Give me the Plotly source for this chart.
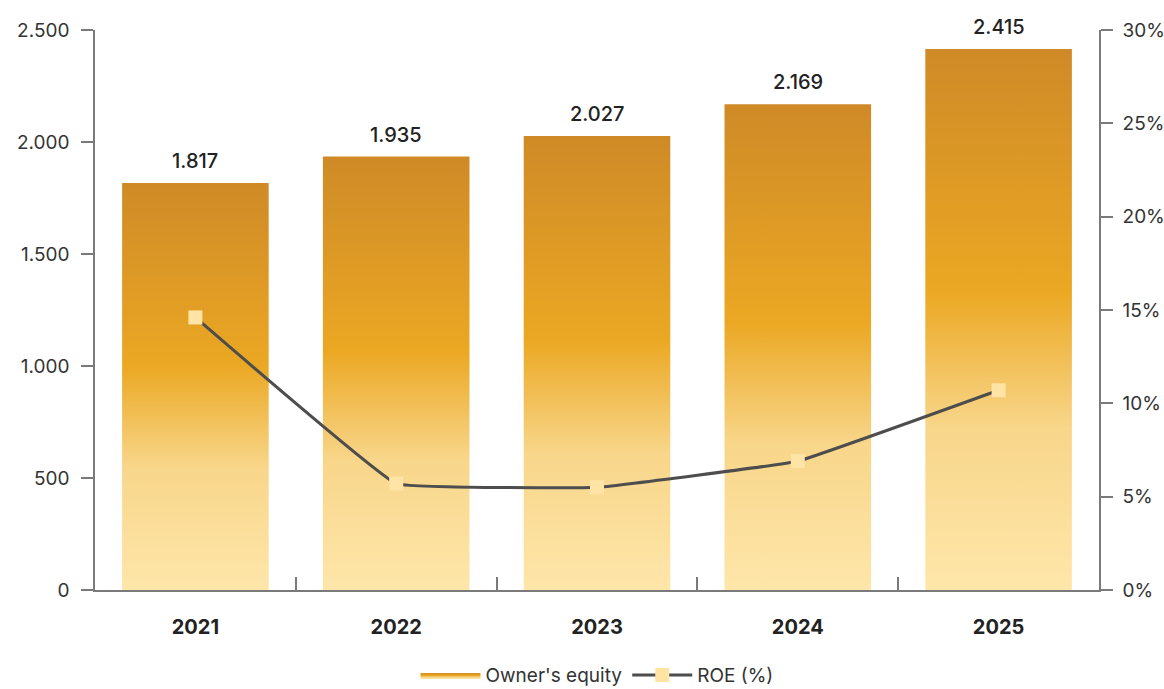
import plotly.graph_objects as go

# Data
years = ["2021", "2022", "2023", "2024", "2025"]
equity = [1817, 1935, 2027, 2169, 2415]
roe = [14.6, 5.7, 5.5, 6.9, 10.7]
equity_labels = ["1.817", "1.935", "2.027", "2.169", "2.415"]
roe_ticks = [0, 5, 10, 15, 20, 25, 30]
roe_tick_labels = ["0%", "5%", "10%", "15%", "20%", "25%", "30%"]
equity_ticks = [0, 500, 1000, 1500, 2000, 2500]

BAR_HALF = 0.365
gold_scale = [
    [0.0, "#FEE6AA"],
    [0.30, "#F8D68A"],
    [0.55, "#EBA823"],
    [1.0, "#CF8A27"],
]

fig = go.Figure()

# Gradient-filled bars, one filled polygon per year
for i, (yr, v) in enumerate(zip(years, equity)):
    fig.add_trace(go.Scatter(
        x=[i - BAR_HALF, i - BAR_HALF, i + BAR_HALF, i + BAR_HALF, i - BAR_HALF],
        y=[0, v, v, 0, 0],
        mode="lines",
        line=dict(width=0),
        fill="toself",
        fillgradient=dict(type="vertical", colorscale=gold_scale),
        name="Owner's equity",
        legendgroup="equity",
        showlegend=(i == 0),
        hoverinfo="skip",
    ))

# ROE line on secondary axis
fig.add_trace(go.Scatter(
    x=list(range(len(years))),
    y=roe,
    yaxis="y2",
    mode="lines+markers",
    name="ROE (%)",
    line=dict(color="#4D4D4D", width=3, shape="spline", smoothing=0.2),
    marker=dict(symbol="square", size=14, color="#FFE4A6", line=dict(width=0)),
))

# Value labels above bars
for i, (v, lbl) in enumerate(zip(equity, equity_labels)):
    fig.add_annotation(
        x=i, y=v, xref="x", yref="y",
        text=lbl, showarrow=False,
        yanchor="bottom", yshift=8,
        font=dict(family="Inter", size=20, color="#222222", weight=500),
    )

axis_line = "#7A7A7A"
fig.update_layout(
    width=1164,
    height=689,
    margin=dict(l=95, r=65, t=30, b=99, autoexpand=False),
    plot_bgcolor="white",
    paper_bgcolor="white",
    separators=",.",
    font=dict(family="Inter", color="#333333"),
    xaxis=dict(
        range=[-0.5, 4.5],
        tickmode="array",
        tickvals=list(range(len(years))),
        ticktext=years,
        ticks="",
        showgrid=False,
        zeroline=False,
        showline=True,
        linecolor=axis_line,
        linewidth=1.5,
        tickfont=dict(family="Inter", size=20, color="#222222", weight=700),
        ticklabelstandoff=18,
        minor=dict(tickmode="array", tickvals=[0.5, 1.5, 2.5, 3.5],
                   ticks="inside", ticklen=13, tickcolor=axis_line, tickwidth=1.5),
        fixedrange=True,
    ),
    yaxis=dict(
        range=[0, 2500],
        tickvals=equity_ticks,
        tickformat=",d",
        ticks="outside",
        ticklen=12,
        tickcolor=axis_line,
        tickwidth=1.5,
        showline=True,
        linecolor=axis_line,
        linewidth=1.5,
        showgrid=False,
        zeroline=False,
        tickfont=dict(family="Inter", size=19, color="#333333"),
        ticklabelstandoff=8,
    ),
    yaxis2=dict(
        range=[0, 30],
        overlaying="y",
        side="right",
        tickmode="array",
        tickvals=roe_ticks,
        ticktext=roe_tick_labels,
        ticks="outside",
        ticklen=12,
        tickcolor=axis_line,
        tickwidth=1.5,
        showline=True,
        linecolor=axis_line,
        linewidth=1.5,
        showgrid=False,
        zeroline=False,
        tickfont=dict(family="Inter", size=19, color="#333333"),
        ticklabelstandoff=6,
    ),
    legend=dict(
        orientation="h",
        x=0.5,
        xanchor="center",
        y=-0.118,
        yanchor="top",
        font=dict(family="Inter", size=19, color="#333333"),
        itemwidth=60,
    ),
    showlegend=True,
)

fig.write_html("out.html")
